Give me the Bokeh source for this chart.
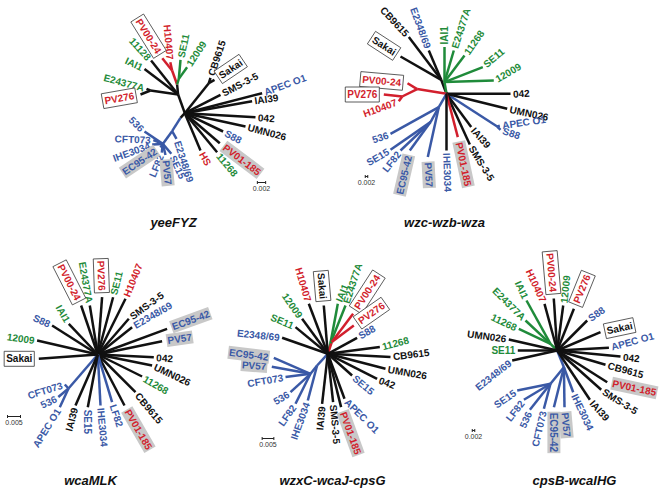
import math
from bokeh.plotting import figure
from bokeh.models import Range1d, ColumnDataSource
from bokeh.core.properties import value
from bokeh.embed import file_html
from bokeh.resources import INLINE

# ---------------- strain categories ----------------
RED_STRAINS = ["H10407", "PV00-24", "PV276", "PV01-185", "HS"]
GREEN_STRAINS = ["SE11", "12009", "IAI1", "E24377A", "11128", "11268"]
BLUE_STRAINS = ["APEC O1", "S88", "536", "CFT073", "IHE3034", "EC95-42", "LF82", "PV57", "SE15", "E2348/69"]
BOXED = ["PV00-24", "PV276", "Sakai"]
GREY_BG = ["EC95-42", "PV57", "PV01-185"]

# ---------------- tree 1 : yeeFYZ ----------------
T1_TITLE = "yeeFYZ"
T1_SCALE = "0.002"
T1_SCALE_LEN = 8.3
T1_NODE_ID = ["ul", "rg", "red", "grn", "ep", "cb", "bl", "b1", "b2"]
T1_NODE_X = [-6.7, -7.7, -12.7, -6.0, -34.3, 24.0, -4.3, -12.7, -22.0]
T1_NODE_Y = [18.7, 28.7, 42.7, 34.3, 22.7, 30.0, -4.7, -18.0, -30.7]
T1_NODE_PARENT = ["c", "ul", "rg", "rg", "ul", "c", "c", "bl", "b1"]
T1_NODE_BR = ["k", "k", "r", "g", "k", "k", "k", "b", "b"]
T1_LEAF = ["H10407", "PV00-24", "SE11", "12009", "CB9615", "Sakai", "SMS-3-5", "APEC O1", "IAI39",
           "042", "UMN026", "S88", "PV01-185", "11268", "HS", "E2348/69", "SE15", "PV57", "LF82",
           "EC95-42", "IHE3034", "CFT073", "536", "E24377A", "PV276", "IAI1", "11128"]
T1_TIP_X = [-14.5, -22.5, -4.3, 2.3, 25.7, 29.7, 35.7, 77.3, 67.3,
            70.7, 60.7, 38.3, 35.0, 32.3, 15.7, -8.3, -13.5, -19.3, -23.0,
            -24.3, -32.6, -31.5, -40.3, -38.3, -44.3, -40.3, -33.7]
T1_TIP_Y = [51.0, 55.0, 53.3, 46.0, 35.3, 33.3, 18.3, 20.0, 12.0,
            -4.0, -13.3, -18.3, -30.0, -39.0, -37.3, -25.6, -40.6, -41.8, -39.5,
            -34.3, -31.3, -27.0, -18.3, 24.3, 18.7, 44.3, 52.7]
T1_PARENT = ["red", "red", "grn", "grn", "cb", "cb", "c", "c", "c",
             "c", "c", "c", "c", "c", "c", "b1", "b2", "b2", "b2",
             "b2", "b2", "b2", "b2", "ep", "ep", "ul", "ul"]
T1_BR = ["r", "r", "g", "g", "k", "k", "k", "k", "k",
         "k", "k", "k", "k", "k", "k", "b", "b", "b", "b",
         "b", "b", "b", "b", "k", "k", "k", "k"]
T1_ANGLE = [95, 122, 78, 57, 72, 34, 28, 20, 8,
            -3, -15, -28, -37, -50, -60, -72, -65, -85, -112,
            -146, -160, 178, 135, 165, -170, 155, 132]

# ---------------- tree 2 : wzc-wzb-wza ----------------
T2_TITLE = "wzc-wzb-wza"
T2_SCALE = "0.002"
T2_SCALE_LEN = 2.5
T2_NODE_ID = ["up", "grn", "red1", "red2", "as", "bl", "b2"]
T2_NODE_X = [-5.3, -2.0, -29.3, -44.3, 50.7, -7.7, -16.0]
T2_NODE_Y = [14.0, 11.7, 4.7, -2.7, -32.7, -13.3, -28.3]
T2_NODE_PARENT = ["c", "c", "c", "red1", "c", "c", "bl"]
T2_NODE_BR = ["k", "g", "r", "r", "b", "b", "b"]
T2_LEAF = ["CB9615", "Sakai", "E2348/69", "IAI1", "E24377A", "11268", "SE11", "12009", "042",
           "UMN026", "APEC O1", "S88", "IAI39", "SMS-3-5", "PV01-185", "IHE3034", "PV57",
           "EC95-42", "LF82", "SE15", "536", "PV00-24", "PV276", "H10407"]
T2_TIP_X = [-37.7, -46.0, -17.7, -2.0, 7.3, 18.0, 36.3, 47.3, 64.0,
            60.7, 53.3, 54.0, 24.7, 23.3, 11.3, 0.0, -18.7,
            -36.7, -46.0, -56.0, -56.0, -39.0, -62.7, -47.7]
T2_TIP_Y = [56.7, 37.3, 43.3, 46.7, 43.3, 38.3, 26.7, 13.3, 0.0,
            -15.0, -32.0, -36.0, -33.3, -50.7, -43.3, -56.7, -63.3,
            -56.7, -56.7, -56.0, -40.0, 10.6, -0.7, -7.5]
T2_PARENT = ["up", "up", "up", "grn", "grn", "grn", "grn", "grn", "c",
             "c", "as", "as", "c", "c", "c", "c", "bl",
             "b2", "b2", "b2", "bl", "red1", "red2", "red2"]
T2_BR = ["k", "k", "k", "g", "g", "g", "g", "g", "k",
         "k", "b", "b", "k", "k", "r", "k", "b",
         "b", "b", "b", "b", "r", "r", "r"]
T2_ANGLE = [133, 147, 110, 90, 72, 55, 40, 30, 3,
            -12, 8, -18, -48, -58, -78, -88, -87,
            -103, -128, -150, -162, 175, 180, -160]

# ---------------- tree 3 : wcaMLK ----------------
T3_TITLE = "wcaMLK"
T3_SCALE = "0.005"
T3_SCALE_LEN = 13.0
T3_NODE_ID = ["b"]
T3_NODE_X = [-29.3]
T3_NODE_Y = [-34.0]
T3_NODE_PARENT = ["c"]
T3_NODE_BR = ["b"]
T3_LEAF = ["PV00-24", "E24377A", "PV276", "SE11", "H10407", "SMS-3-5", "E2348/69", "EC95-42",
           "PV57", "042", "UMN026", "11268", "CB9615", "PV01-185", "LF82", "IHE3034", "SE15",
           "IAI39", "APEC O1", "536", "CFT073", "Sakai", "12009", "S88", "IAI1"]
T3_TIP_X = [-16.7, -8.0, 4.3, 15.3, 27.7, 31.0, 34.3, 69.3,
            64.3, 56.0, 54.3, 44.3, 37.7, 26.7, 14.3, 2.7, -10.0,
            -22.3, -38.0, -39.5, -33.0, -59.0, -60.7, -45.7, -29.0]
T3_TIP_Y = [49.0, 49.0, 57.3, 57.3, 55.7, 35.7, 27.3, 25.7,
            13.3, -2.7, -11.0, -22.0, -37.7, -51.0, -47.7, -51.0, -52.7,
            -51.0, -52.7, -42.5, -30.0, -4.3, 14.0, 29.0, 30.7]
T3_PARENT = ["c", "c", "c", "c", "c", "c", "c", "c",
             "c", "c", "c", "c", "c", "c", "c", "c", "c",
             "c", "b", "b", "b", "c", "c", "c", "c"]
T3_BR = ["k", "k", "k", "k", "k", "k", "k", "k",
         "k", "k", "k", "k", "k", "k", "b", "b", "k",
         "k", "b", "b", "b", "k", "k", "k", "k"]
T3_ANGLE = [117, 100, 92, 76, 68, 36, 30, 20,
            8, -3, -25, -30, -50, -60, -72, -85, -90,
            -105, -122, -155, -163, 180, 172, 156, 120]

# ---------------- tree 4 : wzxC-wcaJ-cpsG ----------------
T4_TITLE = "wzxC-wcaJ-cpsG"
T4_SCALE = "0.005"
T4_SCALE_LEN = 11.7
T4_NODE_ID = ["gn", "rn", "b", "b2"]
T4_NODE_X = [2.7, 4.0, -10.7, -17.3]
T4_NODE_Y = [10.7, 11.7, -11.7, -20.0]
T4_NODE_PARENT = ["c", "c", "c", "b"]
T4_NODE_BR = ["g", "r", "b", "b"]
T4_LEAF = ["H10407", "Sakai", "12009", "IAI1", "E24377A", "PV00-24", "PV276", "S88", "11268",
           "CB9615", "UMN026", "042", "SE15", "APEC O1", "PV01-185", "SMS-3-5", "IAI39",
           "IHE3034", "LF82", "536", "CFT073", "PV57", "EC95-42", "E2348/69", "SE11"]
T4_TIP_X = [-19.0, -4.0, -25.7, 10.0, 17.7, 25.3, 26.0, 29.3, 52.0,
            62.7, 57.7, 49.3, 24.3, 16.7, 13.3, 5.3, -5.7,
            -20.0, -32.3, -37.3, -42.3, -56.0, -54.0, -45.7, -32.3]
T4_TIP_Y = [50.0, 48.3, 35.0, 50.0, 48.3, 40.0, 28.3, 16.0, 6.7,
            -3.3, -15.0, -25.0, -21.7, -45.0, -53.3, -48.3, -50.0,
            -46.7, -50.0, -38.3, -23.3, -13.0, -4.0, 16.0, 26.7]
T4_PARENT = ["c", "c", "c", "gn", "gn", "rn", "rn", "c", "c",
             "c", "c", "c", "c", "c", "c", "c", "c",
             "b", "b2", "b2", "b2", "b2", "b2", "c", "c"]
T4_BR = ["k", "k", "k", "g", "g", "r", "r", "k", "k",
         "k", "k", "k", "k", "k", "k", "k", "k",
         "b", "b", "b", "b", "b", "b", "k", "k"]
T4_ANGLE = [106, 95, 125, 68, 72, 57, 35, 30, 15,
            7, -10, -20, -40, -45, -70, -85, -95,
            -110, -125, -150, -170, 176, 173, 174, 157]

# ---------------- tree 5 : cpsB-wcaIHG ----------------
T5_TITLE = "cpsB-wcaIHG"
T5_SCALE = "0.002"
T5_SCALE_LEN = 2.5
T5_NODE_ID = ["g", "b", "b2"]
T5_NODE_X = [-6.7, 6.7, -6.7]
T5_NODE_Y = [6.7, -16.7, -33.3]
T5_NODE_PARENT = ["c", "c", "b"]
T5_NODE_BR = ["g", "b", "b"]
T5_LEAF = ["H10407", "PV00-24", "12009", "PV276", "IAI1", "E24377A", "11268", "UMN026", "SE11",
           "E2348/69", "S88", "Sakai", "APEC O1", "042", "CB9615", "PV01-185", "SMS-3-5",
           "IAI39", "IHE3034", "PV57", "EC95-42", "CFT073", "536", "LF82", "SE15"]
T5_TIP_X = [-12.7, -3.4, 6.0, 16.7, -30.7, -31.7, -38.4, -48.4, -39.4,
            -45.0, 30.0, 43.3, 51.7, 63.3, 48.3, 50.0, 44.0,
            32.7, 16.0, 7.3, -3.3, -13.3, -27.3, -33.3, -40.0]
T5_TIP_Y = [46.7, 52.0, 45.0, 41.7, 50.0, 30.0, 21.7, 11.0, 0.0,
            -10.0, 30.0, 18.3, 2.7, -6.0, -14.3, -31.7, -39.3,
            -49.3, -41.7, -56.7, -56.7, -58.3, -59.3, -49.3, -40.0]
T5_PARENT = ["c", "c", "c", "c", "g", "g", "g", "c", "c",
             "c", "c", "c", "c", "c", "c", "c", "c",
             "c", "b", "b", "b", "b2", "b2", "b2", "b2"]
T5_BR = ["k", "k", "k", "k", "g", "g", "g", "k", "k",
         "k", "k", "k", "k", "k", "k", "k", "k",
         "k", "b", "b", "b", "b", "b", "b", "b"]
T5_ANGLE = [115, 95, 84, 68, 115, 135, 155, 172, 180,
            -142, 35, 12, 15, -5, -15, -12, -32,
            -48, -65, -85, -90, -103, -115, -128, -145]

# ---------------- layout (page pixels) ----------------
W, H = 659, 491
CENTERS = [(184.3, 112.7), (446.0, 93.3), (97.3, 354.0), (327.3, 353.3), (556.7, 350.0)]
TITLE_POS = [(173, 222), (444, 222), (90, 480), (332, 480), (574, 480)]
SCALE_POS = [(261, 182), (366, 176), (13.5, 416), (267.5, 438), (473, 430)]

COL = {"r": "#d21f2d", "g": "#1f8b3a", "b": "#3a59a6", "k": "#111111"}


def strain_color(name):
    if name in RED_STRAINS:
        return COL["r"]
    if name in GREEN_STRAINS:
        return COL["g"]
    if name in BLUE_STRAINS:
        return COL["b"]
    return COL["k"]


trees = [
    (T1_TITLE, T1_SCALE, T1_SCALE_LEN, T1_NODE_ID, T1_NODE_X, T1_NODE_Y, T1_NODE_PARENT, T1_NODE_BR,
     T1_LEAF, T1_TIP_X, T1_TIP_Y, T1_PARENT, T1_BR, T1_ANGLE),
    (T2_TITLE, T2_SCALE, T2_SCALE_LEN, T2_NODE_ID, T2_NODE_X, T2_NODE_Y, T2_NODE_PARENT, T2_NODE_BR,
     T2_LEAF, T2_TIP_X, T2_TIP_Y, T2_PARENT, T2_BR, T2_ANGLE),
    (T3_TITLE, T3_SCALE, T3_SCALE_LEN, T3_NODE_ID, T3_NODE_X, T3_NODE_Y, T3_NODE_PARENT, T3_NODE_BR,
     T3_LEAF, T3_TIP_X, T3_TIP_Y, T3_PARENT, T3_BR, T3_ANGLE),
    (T4_TITLE, T4_SCALE, T4_SCALE_LEN, T4_NODE_ID, T4_NODE_X, T4_NODE_Y, T4_NODE_PARENT, T4_NODE_BR,
     T4_LEAF, T4_TIP_X, T4_TIP_Y, T4_PARENT, T4_BR, T4_ANGLE),
    (T5_TITLE, T5_SCALE, T5_SCALE_LEN, T5_NODE_ID, T5_NODE_X, T5_NODE_Y, T5_NODE_PARENT, T5_NODE_BR,
     T5_LEAF, T5_TIP_X, T5_TIP_Y, T5_PARENT, T5_BR, T5_ANGLE),
]

p = figure(width=W, height=H, x_range=Range1d(0, W), y_range=Range1d(0, H),
           toolbar_location=None, output_backend="svg", min_border=0)
p.axis.visible = False
p.grid.visible = False
p.outline_line_color = None
p.background_fill_color = "white"

FONT = value("Liberation Sans")

seg_xs, seg_ys, seg_col = [], [], []
labels = {}
titles = dict(x=[], y=[], text=[])
bars_xs, bars_ys = [], []
stext = dict(x=[], y=[], text=[])

for ti, tr in enumerate(trees):
    (title, sc_txt, sc_len, nid, nx, ny, npar, nbr, leaf, tx, ty, tpar, tbr, tang) = tr
    cx, cyp = CENTERS[ti]
    cy = H - cyp
    pos = {"c": (0.0, 0.0)}
    for i, n in enumerate(nid):
        pos[n] = (nx[i], ny[i])
    for i, n in enumerate(nid):
        px_, py_ = pos[npar[i]]
        seg_xs.append([cx + px_, cx + nx[i]])
        seg_ys.append([cy + py_, cy + ny[i]])
        seg_col.append(COL[nbr[i]])
    for i, name in enumerate(leaf):
        px_, py_ = pos[tpar[i]]
        seg_xs.append([cx + px_, cx + tx[i]])
        seg_ys.append([cy + py_, cy + ty[i]])
        seg_col.append(COL[tbr[i]])
        a = ((tang[i] + 180) % 360) - 180
        if a == -180:
            a = 180
        r = math.radians(a)
        gap = 2.5
        lx = cx + tx[i] + gap * math.cos(r)
        ly = cy + ty[i] + gap * math.sin(r)
        if -90 <= a <= 90:
            rot, align = a, "left"
        else:
            rot, align = (a - 180 if a > 0 else a + 180), "right"
        style = "box" if name in BOXED else ("grey" if name in GREY_BG else "plain")
        key = (style, align)
        d = labels.setdefault(key, dict(x=[], y=[], text=[], angle=[], color=[]))
        if style != "plain":
            lx += 2.0 * math.cos(r)
            ly += 2.0 * math.sin(r)
        d["x"].append(lx)
        d["y"].append(ly)
        d["text"].append(name)
        d["angle"].append(math.radians(rot))
        d["color"].append(strain_color(name))
    tx_, ty_ = TITLE_POS[ti]
    titles["x"].append(tx_)
    titles["y"].append(H - ty_)
    titles["text"].append(title)
    sx, sy = SCALE_POS[ti]
    sy = H - sy
    bars_xs.append([sx - sc_len / 2, sx + sc_len / 2])
    bars_ys.append([sy, sy])
    bars_xs.append([sx - sc_len / 2, sx - sc_len / 2])
    bars_ys.append([sy - 1.5, sy + 1.5])
    bars_xs.append([sx + sc_len / 2, sx + sc_len / 2])
    bars_ys.append([sy - 1.5, sy + 1.5])
    stext["x"].append(sx)
    stext["y"].append(sy - 6)
    stext["text"].append(sc_txt)

p.multi_line(xs=seg_xs, ys=seg_ys, line_color=seg_col, line_width=2.5, line_cap="butt",
             line_join="round")

for (style, align), d in labels.items():
    src = ColumnDataSource(d)
    kw = dict(x="x", y="y", text="text", angle="angle", text_color="color", source=src,
              text_font=FONT, text_font_style="bold", text_font_size="10px",
              text_align=align, text_baseline="middle")
    if style == "box":
        kw.update(background_fill_color="white", border_line_color="#333333",
                  border_line_width=0.8, padding=2)
    elif style == "grey":
        kw.update(background_fill_color="#c8c8c8", padding=1)
    p.text(**kw)

p.multi_line(xs=bars_xs, ys=bars_ys, line_color="#222222", line_width=1)
p.text(x="x", y="y", text="text", source=ColumnDataSource(stext), text_font=FONT,
       text_font_size="7px", text_align="center", text_baseline="middle", text_color="#333333")
p.text(x="x", y="y", text="text", source=ColumnDataSource(titles), text_font=FONT,
       text_font_style="bold italic", text_font_size="13px", text_align="center",
       text_baseline="middle", text_color="#111111")

open("out.html", "w").write(file_html(p, INLINE))
